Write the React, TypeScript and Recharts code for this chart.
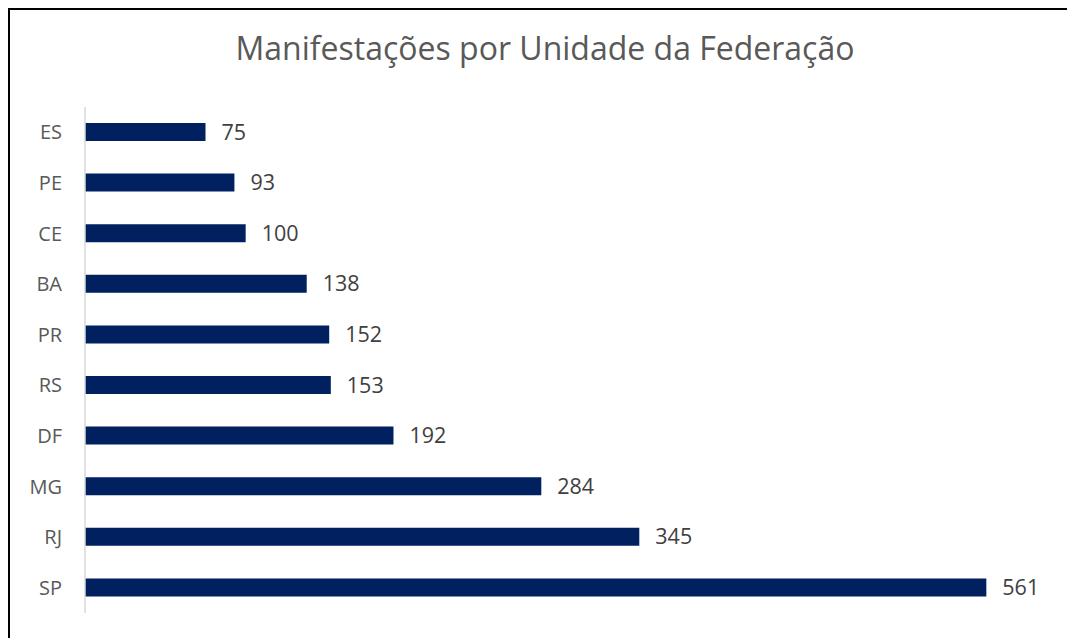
import React from 'react';
import { BarChart, Bar, XAxis, YAxis, LabelList } from 'recharts';

// ─── Data ────────────────────────────────────────────
const states = ['ES', 'PE', 'CE', 'BA', 'PR', 'RS', 'DF', 'MG', 'RJ', 'SP'];
const counts = [75, 93, 100, 138, 152, 153, 192, 284, 345, 561];

const chartData = states.map((uf, i) => ({ uf, total: counts[i] }));

const FONT = '"Open Sans", "Noto Sans", sans-serif';

export default function App() {
  return (
    <div
      style={{
        position: 'fixed',
        left: 0,
        top: 0,
        width: 1067,
        height: 638,
        background: '#fff',
        fontFamily: FONT,
        overflow: 'hidden',
      }}
    >
      {/* frame — only left and top edges show in the crop */}
      <div
        style={{
          position: 'absolute',
          left: 8,
          top: 8,
          right: -4,
          bottom: -4,
          borderLeft: '2px solid #000',
          borderTop: '2px solid #000',
        }}
      />

      <div
        style={{
          position: 'absolute',
          left: 8,
          width: 1074,
          top: 32,
          textAlign: 'center',
          fontSize: 32,
          lineHeight: '32px',
          color: '#595959',
        }}
      >
        Manifestações por Unidade da Federação
      </div>

      <div style={{ position: 'absolute', left: 0, top: 0 }}>
        <BarChart
          width={1067}
          height={638}
          data={chartData}
          layout="vertical"
          margin={{ top: 107, right: 18, bottom: 25, left: 0 }}
        >
          <XAxis type="number" domain={[0, 600]} hide />
          <YAxis
            type="category"
            dataKey="uf"
            width={85}
            axisLine={{ stroke: '#d9d9d9', strokeWidth: 1.5 }}
            tickLine={false}
            tickSize={0}
            tickMargin={23}
            tick={{ fill: '#595959', fontSize: 20, fontFamily: FONT }}
          />
          <Bar dataKey="total" fill="#002060" barSize={18} isAnimationActive={false}>
            <LabelList
              dataKey="total"
              position="right"
              offset={16}
              fill="#404040"
              fontSize={21.5}
              fontFamily={FONT}
            />
          </Bar>
        </BarChart>
      </div>
    </div>
  );
}
